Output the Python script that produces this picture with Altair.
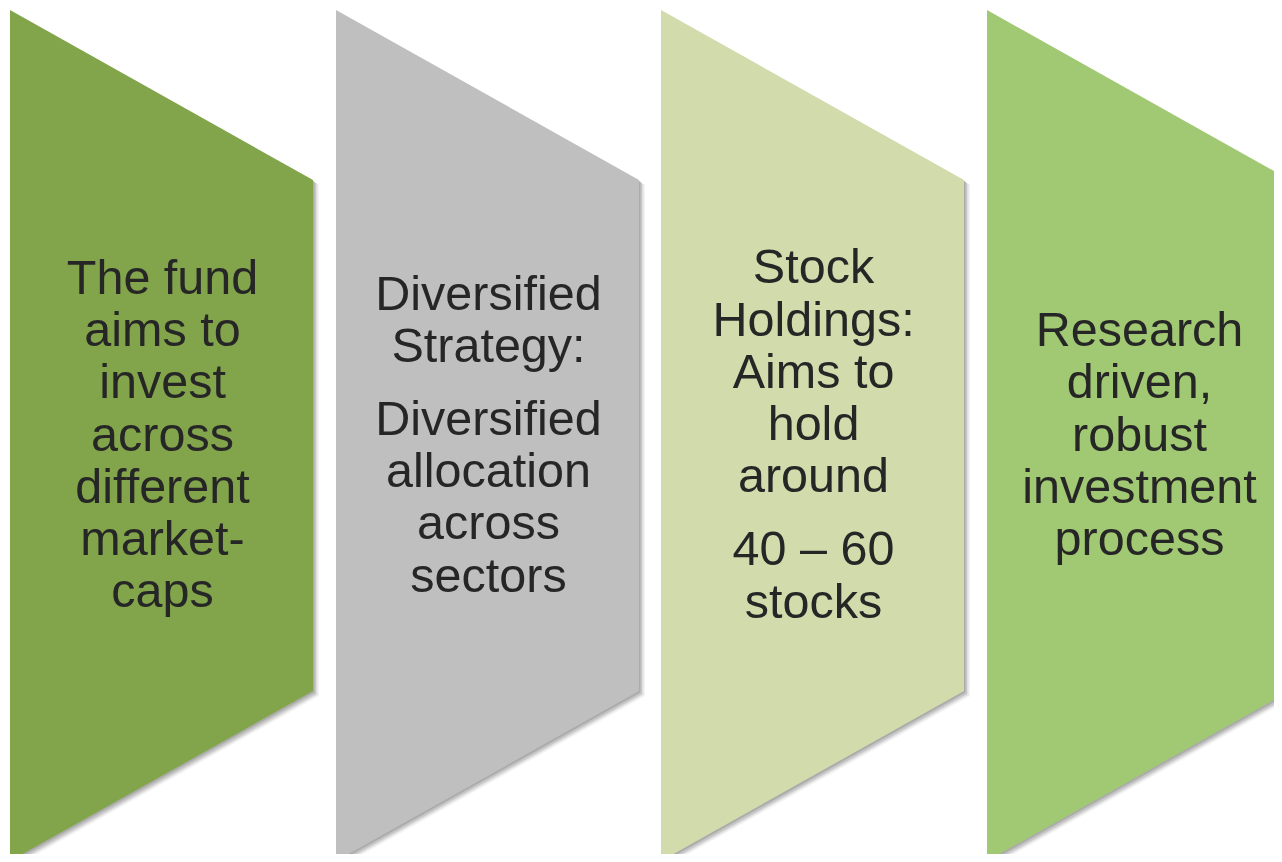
import altair as alt
import pandas as pd

# ---- diagram data ----
panel_left = [10, 336, 661, 987]          # left edge of each chevron panel (page px)
panel_width = 303
top_y, bottom_y, slant = 10, 861, 170
panel_colors = ["#82A54B", "#BFBFBF", "#D2DBAB", "#A1C873"]
panel_texts = [
    [["The fund", "aims to", "invest", "across", "different", "market-", "caps"]],
    [["Diversified", "Strategy:"], ["Diversified", "allocation", "across", "sectors"]],
    [["Stock", "Holdings:", "Aims to", "hold", "around"], ["40 – 60", "stocks"]],
    [["Research", "driven,", "robust", "investment", "process"]],
]
line_height = 52.2
para_gap = 21
text_mid = 450.5

# ---- build polygon table ----
def poly(left, dx=0, dy=0):
    pts = [(left, top_y), (left + panel_width, top_y + slant),
           (left + panel_width, bottom_y - slant), (left, bottom_y), (left, top_y)]
    return [(px + dx, py + dy) for px, py in pts]

rows = []
for i, (left, col) in enumerate(zip(panel_left, panel_colors)):
    for k, (px, py) in enumerate(poly(left)):
        rows.append({"pid": f"p{i}", "ord": k, "x": px, "y": py, "color": col})
shapes = pd.DataFrame(rows)

shadow_rows = []
for s, (dx, dy, op) in enumerate([(1.5, 1.5, 0.3), (3, 3, 0.22), (4.5, 4.0, 0.15), (6, 5, 0.08)]):
    for i, left in enumerate(panel_left):
        for k, (px, py) in enumerate(poly(left, dx, dy)):
            shadow_rows.append({"pid": f"s{s}_{i}", "ord": k, "x": px, "y": py, "op": op})
shadows = pd.DataFrame(shadow_rows)

trows = []
for i, paras in enumerate(panel_texts):
    n_lines = sum(len(p) for p in paras)
    span = (n_lines - 1) * line_height + (len(paras) - 1) * para_gap
    yb = text_mid - span / 2
    for para in paras:
        for line in para:
            trows.append({"x": panel_left[i] + panel_width / 2 + 1, "y": yb, "t": line})
            yb += line_height
        yb += para_gap
texts = pd.DataFrame(trows)

# chart area covers page pixels 8..1274 x 8..854 (page has an 8px margin)
xs = alt.Scale(domain=[8, 1274], nice=False, zero=False)
ys = alt.Scale(domain=[8, 854], nice=False, zero=False, reverse=True)

shadow_layer = alt.Chart(shadows).mark_line(filled=True, clip=True, strokeWidth=0).encode(
    x=alt.X("x:Q", scale=xs, axis=None),
    y=alt.Y("y:Q", scale=ys, axis=None),
    detail="pid:N",
    order="ord:Q",
    fill=alt.value("#6f6f6f"),
    fillOpacity=alt.FillOpacity("op:Q", scale=None),
)

shape_layer = alt.Chart(shapes).mark_line(filled=True, clip=True, strokeWidth=0).encode(
    x=alt.X("x:Q", scale=xs, axis=None),
    y=alt.Y("y:Q", scale=ys, axis=None),
    detail="pid:N",
    order="ord:Q",
    fill=alt.Fill("color:N", scale=None),
)

text_layer = alt.Chart(texts).mark_text(
    font="Liberation Sans", fontSize=48.5, color="#262626",
    align="center", baseline="alphabetic",
).encode(
    x=alt.X("x:Q", scale=xs, axis=None),
    y=alt.Y("y:Q", scale=ys, axis=None),
    text="t:N",
)

chart = alt.layer(shadow_layer, shape_layer, text_layer).properties(
    width=1266, height=846, padding=0, autosize=alt.AutoSizeParams(type="none"),
    background="white",
).configure_view(stroke=None)

chart.save("out.html", embed_options={"renderer": "svg", "actions": False})
